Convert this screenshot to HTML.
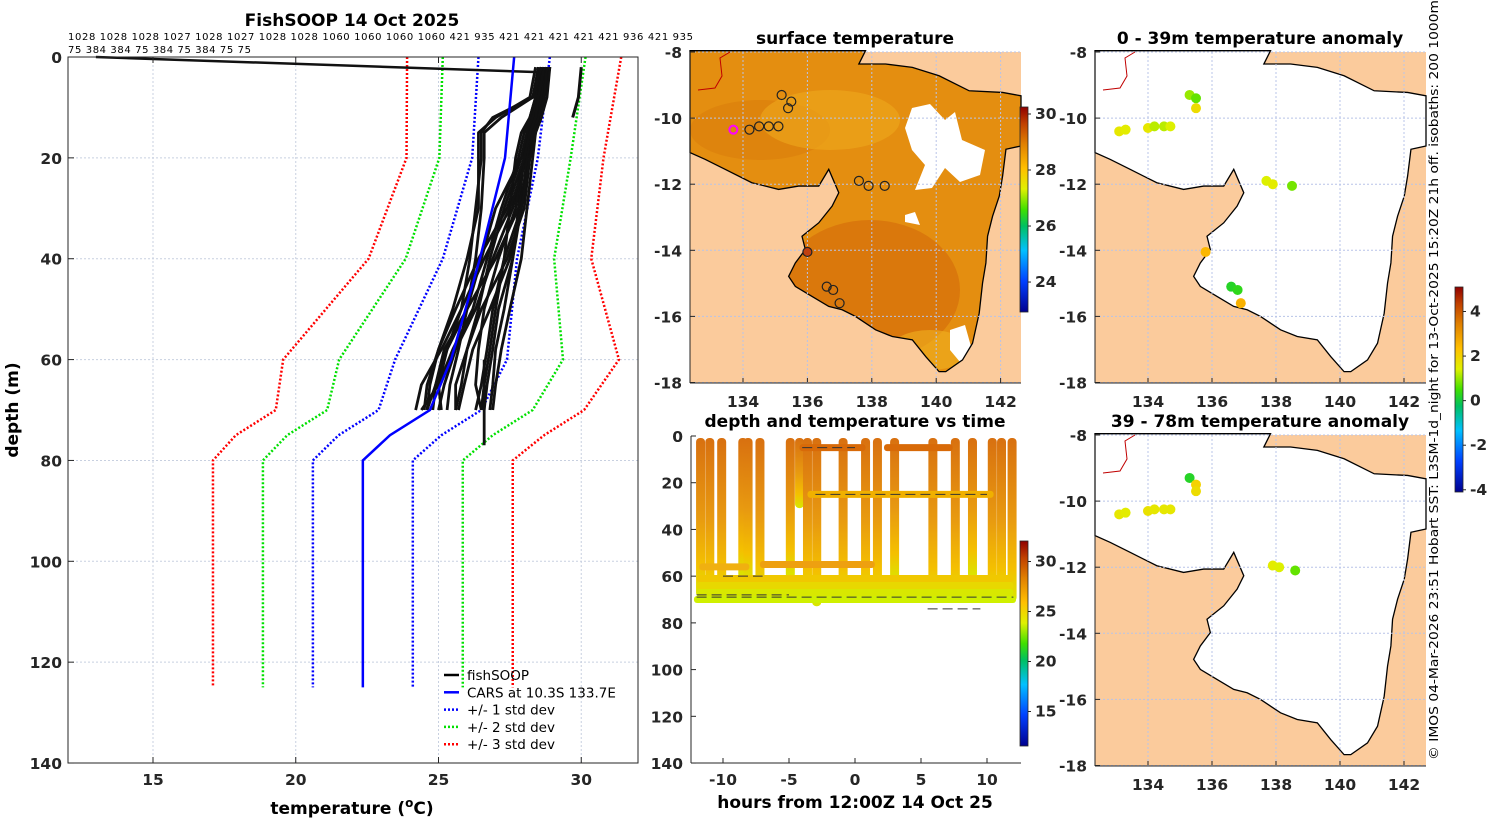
<!DOCTYPE html>
<html><head><meta charset="utf-8">
<style>
html,body{margin:0;padding:0;background:#fff;}
svg{display:block;font-family:"DejaVu Sans","Liberation Sans",sans-serif;}
.tk{font-size:15.5px;font-weight:bold;fill:#262626;}
.tt{font-size:17px;font-weight:bold;fill:#000;}
.nt{font-weight:normal;fill:#000;}
</style></head>
<body>
<svg id="s" width="1500" height="820" viewBox="0 0 1500 820" xmlns="http://www.w3.org/2000/svg">
<defs>
<linearGradient id="jet" x1="0" y1="1" x2="0" y2="0">
<stop offset="0" stop-color="#00008f"/><stop offset="0.15" stop-color="#0040ff"/><stop offset="0.3" stop-color="#00c0ff"/><stop offset="0.42" stop-color="#00c060"/><stop offset="0.5" stop-color="#40e000"/><stop offset="0.6" stop-color="#e0f000"/><stop offset="0.7" stop-color="#ffc000"/><stop offset="0.82" stop-color="#e08000"/><stop offset="0.92" stop-color="#c04000"/><stop offset="1" stop-color="#900000"/>
</linearGradient>
<linearGradient id="dtg" x1="0" y1="0" x2="0" y2="1">
<stop offset="0" stop-color="#d87010"/><stop offset="0.5" stop-color="#e89a10"/><stop offset="0.8" stop-color="#f4c000"/><stop offset="1" stop-color="#d8e800"/>
</linearGradient>
</defs>
</svg>
<script>
// ---- data ----
const profDepths=[2,8,12,15,20,30,40,50,58,65,70];
const profTemps=[
[28.6,28.4,28.2,27.9,27.7,27.5,27.3,27.0,26.8,26.6,26.5],
[28.8,28.6,28.4,28.2,28.0,27.6,26.9,26.3,25.6,25.2,25.0],
[28.5,28.3,27.2,26.6,26.6,26.5,26.3,26.0,25.7,25.4,25.3],
[28.7,28.5,28.3,28.1,27.9,27.0,26.5,26.0,25.3,24.9,24.8],
[28.9,28.7,28.5,28.3,28.1,27.9,27.5,26.8,26.2,25.9,25.7],
[28.4,28.2,27.0,26.4,26.4,26.4,26.0,25.5,25.0,24.7,24.6],
[28.8,28.6,28.4,28.3,28.2,28.0,27.4,26.5,26.0,25.8,25.6],
[28.6,28.4,28.2,28.0,27.8,27.2,26.7,26.2,25.5,25.0,24.4],
[28.7,28.5,28.3,28.1,28.0,27.7,27.1,26.6,26.4,26.3,26.5],
[28.5,28.4,28.3,28.2,28.0,27.8,27.6,27.3,27.0,26.9,26.8],
[28.9,28.7,28.5,28.4,28.2,27.8,27.0,26.0,25.2,24.9,24.6],
[28.6,28.5,28.3,28.1,27.9,27.3,26.8,26.4,26.0,25.6,25.6],
[28.8,28.6,28.5,28.3,28.1,27.5,26.6,25.8,25.1,24.4,24.2],
[28.7,28.6,28.4,28.2,28.1,27.9,27.6,27.1,26.9,26.7,26.6],
[28.6,28.3,26.9,26.5,26.5,26.3,26.1,25.8,25.3,25.0,25.1],
[28.8,28.7,28.6,28.4,28.3,28.1,27.9,27.5,27.2,27.0,26.9],
[28.7,28.5,28.4,28.2,28.0,27.4,26.4,25.6,25.0,24.6,24.5],
[28.9,28.8,28.6,28.4,28.2,27.9,27.3,26.9,26.7,26.5,26.3]
];
const carsDepths=[0,20,40,60,70,75,80,125];
const carsMean=[27.65,27.33,26.45,25.44,24.7,23.3,22.35,22.35];
const carsStd=[1.25,1.15,1.3,1.96,1.8,1.8,1.75,1.75];
const tempTicks=[15,20,25,30];
const depthTicks=[0,20,40,60,80,100,120,140];
const headerLine1="1028 1028 1028 1027 1028 1027 1028 1028 1060 1060 1060 1060 421 935 421 421 421 421 421 936 421 935";
const headerLine2="75 384 384 75 384 75 384 75 75";
const dropHours=[-11.7,-11.0,-10.1,-8.5,-8.1,-7.2,-4.9,-4.2,-3.6,-2.9,-0.9,0.8,1.7,3.0,5.9,7.6,8.9,10.4,11.1,11.9];
const dropBottoms=[68,70,70,60,62,68,60,30,70,72,70,70,70,62,70,70,60,70,70,70];
const hourTicks=[-10,-5,0,5,10];
const lonTicks=[134,136,138,140,142];
const latTicks=[-8,-10,-12,-14,-16,-18];
const sstLon=[135.2,135.5,135.4,134.2,134.5,134.8,135.1,137.6,137.9,138.4,136.0,136.6,136.8,137.0];
const sstLat=[-9.3,-9.5,-9.7,-10.35,-10.25,-10.25,-10.25,-11.9,-12.05,-12.05,-14.05,-15.1,-15.2,-15.6];
const anomLon1=[135.3,135.5,135.5,133.1,133.3,134.0,134.2,134.5,134.7,137.7,137.9,138.5,135.8,136.6,136.8,136.9];
const anomLat1=[-9.3,-9.4,-9.7,-10.4,-10.35,-10.3,-10.25,-10.25,-10.25,-11.9,-12.0,-12.05,-14.05,-15.1,-15.2,-15.6];
const anomVal1=[1.0,0.7,1.8,1.6,1.5,1.6,1.2,1.2,1.4,1.4,1.5,0.8,2.5,0.2,0.3,2.6];
const anomLon2=[135.3,135.5,135.5,133.1,133.3,134.0,134.2,134.5,134.7,137.9,138.1,138.6];
const anomLat2=[-9.3,-9.5,-9.7,-10.4,-10.35,-10.3,-10.25,-10.25,-10.25,-11.95,-12.0,-12.1];
const anomVal2=[0.2,2.0,1.8,1.6,1.5,1.7,1.6,1.6,1.6,1.5,1.4,0.7];
const sstTicks=[30,28,26,24];
const tvTicks=[30,25,20,15];
const anomTicks=[4,2,0,-2,-4];

// ---- helpers ----
const NS="http://www.w3.org/2000/svg";
const svg=document.getElementById('s');
function el(tag,attrs,parent){const e=document.createElementNS(NS,tag);for(const k in attrs)e.setAttribute(k,attrs[k]);(parent||svg).appendChild(e);return e;}
function txt(x,y,s,cls,anchor,extra,parent){const e=el('text',Object.assign({x:x,y:y,'class':(cls==null?'tk':cls),'text-anchor':anchor||'middle'},extra||{}),parent);e.textContent=s;return e;}
function jet(f){f=Math.max(0,Math.min(1,f));const st=[[0,[0,0,143]],[0.15,[0,64,255]],[0.3,[0,192,255]],[0.42,[0,192,96]],[0.5,[64,224,0]],[0.6,[224,240,0]],[0.7,[255,192,0]],[0.82,[224,128,0]],[0.92,[192,64,0]],[1,[144,0,0]]];for(let i=1;i<st.length;i++){if(f<=st[i][0]){const a=st[i-1],b=st[i];const t=(f-a[0])/(b[0]-a[0]);return 'rgb('+a[1].map((v,j)=>Math.round(v+(b[1][j]-v)*t)).join(',')+')';}}return 'rgb(144,0,0)';}

// ---- left panel ----
const LX0=68,LX1=638,LY0=57,LY1=763;
const xT=t=>153+(t-15)*28.55, yD=d=>LY0+(d)*5.043;
let g=el('g',{});


tempTicks.forEach(t=>{el('line',{x1:xT(t),x2:xT(t),y1:LY0,y2:LY1,stroke:'#c8d0e0','stroke-dasharray':'2,2','stroke-width':1},g);});
depthTicks.forEach(d=>{el('line',{x1:LX0,x2:LX1,y1:yD(d),y2:yD(d),stroke:'#c8d0e0','stroke-dasharray':'2,2','stroke-width':1},g);});
[[3,'#ff0000'],[2,'#00e000'],[1,'#0000ff']].forEach(([k,c])=>{
 [-1,1].forEach(sgn=>{
  const pts=carsDepths.map((d,i)=>xT(carsMean[i]+sgn*k*carsStd[i])+','+yD(d)).join(' ');
  const l=el('polyline',{points:pts,fill:'none',stroke:c,'stroke-width':2.5,'stroke-dasharray':'2,2'},g);
  
  
 });
});
profTemps.forEach((arr,i)=>{
 const pts=profDepths.map((d,j)=>xT(arr[j])+','+yD(d)).join(' ');
 const l=el('polyline',{points:pts,fill:'none',stroke:'#111','stroke-width':2.8,'stroke-linejoin':'round'},g);
 
 
});
{const l=el('polyline',{points:xT(13)+','+yD(0)+' '+xT(28.5)+','+yD(3),fill:'none',stroke:'#111','stroke-width':2.5},g);

}
{const l=el('polyline',{points:xT(26.6)+','+yD(60)+' '+xT(26.6)+','+yD(77),fill:'none',stroke:'#111','stroke-width':2.8},g);

}
{const l=el('polyline',{points:xT(30.0)+','+yD(2)+' '+xT(29.9)+','+yD(8)+' '+xT(29.7)+','+yD(12),fill:'none',stroke:'#111','stroke-width':3},g);

}
{const l=el('polyline',{points:carsDepths.map((d,i)=>xT(carsMean[i])+','+yD(d)).join(' '),fill:'none',stroke:'#0000ff','stroke-width':2.5},g);

}
el('rect',{x:LX0,y:LY0,width:LX1-LX0,height:LY1-LY0,fill:'none',stroke:'#262626','stroke-width':1},g);
tempTicks.forEach(t=>{el('line',{x1:xT(t),x2:xT(t),y1:LY1,y2:LY1-6,stroke:'#262626'},g);el('line',{x1:xT(t),x2:xT(t),y1:LY0,y2:LY0+6,stroke:'#262626'},g);const e=txt(xT(t),785,String(t),null,null,null,g);});
depthTicks.forEach(d=>{el('line',{x1:LX0,x2:LX0+6,y1:yD(d),y2:yD(d),stroke:'#262626'},g);const e=txt(62,yD(d)+6,String(d),'tk','end',null,g);});
{const e=el('text',{x:352,y:814,'class':'tt','text-anchor':'middle'});e.innerHTML='temperature (<tspan dy="-7" font-size="12">o</tspan><tspan dy="7">C)</tspan>';}
{const e=txt(18,410,'depth (m)','tt','middle',{transform:'rotate(-90 18 410)'});}
{const e=txt(352,26,'FishSOOP 14 Oct 2025','tt','middle',{'font-size':'18.5'});}
{const e=txt(68,40,headerLine1,'nt','start',{'font-size':'10','textLength':'625','lengthAdjust':'spacing'});}
{const e=txt(68,53,headerLine2,'nt','start',{'font-size':'10','textLength':'183','lengthAdjust':'spacing'});}
const legItems=[['fishSOOP','#000',''],['CARS at 10.3S 133.7E','#0000ff',''],['+/- 1 std dev','#0000ff','2,2'],['+/- 2 std dev','#00e000','2,2'],['+/- 3 std dev','#ff0000','2,2']];
legItems.forEach((it,i)=>{const y=675+i*17.3;const lg=el('g',{},g);
 el('line',{x1:444,x2:459,y1:y,y2:y,stroke:it[1],'stroke-width':2.5,'stroke-dasharray':it[2]||'none'},lg);
 txt(467,y+5,it[0],'nt','start',{'font-size':'13.5'},lg);});

// ---- coast polygon (fractions of map box) ----
const waterZ=[[15,5],[540,5],[520,45],[600,45],[680,55],[760,80],[850,125],[950,130],[1005,140],[1005,290],[960,300],[950,380],[940,440],[920,500],[905,560],[900,640],[890,700],[880,790],[860,880],[830,930],[780,965],[760,965],[720,920],[680,870],[620,860],[570,840],[510,800],[470,780],[430,770],[380,740],[330,710],[310,680],[330,640],[360,600],[350,560],[400,520],[440,470],[460,430],[430,360],[400,410],[340,410],[280,420],[200,400],[120,360],[60,330],[15,310]];
let clipN=0;
function drawMap(x0,y0,h,water,name){
 const mg=el('g',{});
 const w=331;
 el('rect',{x:x0,y:y0,width:w,height:h,fill:'#fbcb9c'},mg);
 const pts=waterZ.map(p=>(x0+(p[0]-15)/990*w)+','+(y0+(p[1]-9)/990*h)).join(' ');
 const cid='clip'+(clipN++);
 const cp=el('clipPath',{id:cid},svg.querySelector('defs'));el('polygon',{points:pts},cp);
 el('polygon',{points:pts,fill:water},mg);
 const inner=el('g',{'clip-path':'url(#'+cid+')'},mg);
 el('polyline',{points:`${x0+8},${y0+38} ${x0+25},${y0+36} ${x0+32},${y0+24} ${x0+30},${y0+6} ${x0+40},${y0}`,fill:'none',stroke:'#c00000','stroke-width':1},mg);
 return [mg,inner,pts];
}
function mapAxes(mg,x0,y0,h,lonF,latF,showLon){
 lonTicks.forEach(l=>{el('line',{x1:lonF(l),x2:lonF(l),y1:y0,y2:y0+h,stroke:'#b8c4e8','stroke-dasharray':'2,2'},mg);el('line',{x1:lonF(l),x2:lonF(l),y1:y0+h,y2:y0+h-5,stroke:'#262626'},mg);
  if(showLon){const e=txt(lonF(l),y0+h+24,String(l),null,null,null,mg);}});
 latTicks.forEach(l=>{el('line',{x1:x0,x2:x0+331,y1:latF(l),y2:latF(l),stroke:'#b8c4e8','stroke-dasharray':'2,2'},mg);el('line',{x1:x0,x2:x0+5,y1:latF(l),y2:latF(l),stroke:'#262626'},mg);
  const e=txt(x0-8,latF(l)+6,String(l),'tk','end',null,mg);});
 el('line',{x1:x0,x2:x0,y1:y0,y2:y0+h,stroke:'#262626'},mg);
 el('line',{x1:x0,x2:x0+331,y1:y0+h,y2:y0+h,stroke:'#262626'},mg);
}
function colorbar(x,y0,y1,vmin,vmax,ticks,name){
 const r=el('rect',{x:x,y:y0,width:8,height:y1-y0,fill:'url(#jet)',stroke:'#262626','stroke-width':0.8});
 
 ticks.forEach(t=>{const y=y1-(t-vmin)/(vmax-vmin)*(y1-y0);el('line',{x1:x+8,x2:x+11,y1:y,y2:y,stroke:'#262626'});const e=txt(x+15,y+5,String(t),'tk','start',{'font-size':'13'});});
}

// ---- SST map ----
{const x0=690,y0=52,h=331;
 const lonF=l=>743+(l-134)*32.2, latF=l=>y0+(-8-l)*33.05;
 const [mg,inner,pts]=drawMap(x0,y0,h,'#e48e10','sst-map');
 el('ellipse',{cx:870,cy:290,rx:90,ry:70,fill:'#d2660a',opacity:0.55},inner);
 el('ellipse',{cx:760,cy:130,rx:70,ry:30,fill:'#d8780c',opacity:0.45},inner);
 el('ellipse',{cx:830,cy:120,rx:70,ry:30,fill:'#eea81c',opacity:0.6},inner);
 el('ellipse',{cx:700,cy:180,rx:14,ry:14,fill:'#b02808',opacity:0.8},inner);
 el('ellipse',{cx:930,cy:350,rx:40,ry:20,fill:'#f0b020',opacity:0.6},inner);
 el('polygon',{points:'912,108 930,104 945,120 955,112 962,140 985,150 980,175 960,182 945,168 932,188 915,190 925,165 912,150 905,128',fill:'#fff'},inner);
 el('polygon',{points:'905,215 915,212 920,225 905,222',fill:'#fff'},inner);
 el('polygon',{points:'950,330 965,325 972,350 960,362 950,350',fill:'#fff'},inner);
 el('polygon',{points:pts,fill:'none',stroke:'#000','stroke-width':1.3},mg);
 mapAxes(mg,x0,y0,h,lonF,latF,true);
 sstLon.forEach((lo,i)=>{const c=el('circle',{cx:lonF(lo),cy:latF(sstLat[i]),r:4.5,fill:i==10?'#c04010':'none',stroke:'#222','stroke-width':1.2},mg);});
 const m=el('circle',{cx:lonF(133.7),cy:latF(-10.35),r:4,fill:'none',stroke:'#ff00ff','stroke-width':2},mg);
 const e=txt(855,44,'surface temperature','tt');
 colorbar(1020,107,312,22.93,30.25,sstTicks,'sst-colorbar');
}

// ---- depth vs time ----
{const X0=691,X1=1021,Y0=436,Y1=763;
 const xH=h=>855+h*13.2, yD2=d=>Y0+d*2.336;
 const tg=el('g',{});
 const tows=[[5,-4.2,0.8,'#d86a08'],[5,2.2,7.4,'#d86a08'],[25,-3.6,10.5,'#f0b000'],[56,-11.8,-8.0,'#f0b010'],[55,-7.2,1.5,'#eea010'],[61,-12,12,'#f0c800'],[64,-12,12,'#e8d800'],[67,-12,12,'#d8e800'],[70,-12.2,12.2,'#d0f000']];
 dropHours.forEach((hh,i)=>{const b=el('rect',{x:xH(hh)-4.5,y:yD2(0)+2,width:9,height:yD2(dropBottoms[i])-yD2(0),rx:4,fill:'url(#dtg)'},tg);});
 tows.forEach(t=>{const b=el('rect',{x:xH(t[1]),y:yD2(t[0])-3.5,width:xH(t[2])-xH(t[1]),height:7,rx:3,fill:t[3]},tg);});
 [[69,-12,12],[68,-12,-5],[25,-3,10],[5,-4,0],[60,-10,-7],[74,5.5,9.5]].forEach(t=>{el('line',{x1:xH(t[1]),x2:xH(t[2]),y1:yD2(t[0]),y2:yD2(t[0]),stroke:'#333','stroke-width':1,'stroke-dasharray':'10,5'},tg);});
 el('line',{x1:X0,x2:X0,y1:Y0,y2:Y1,stroke:'#262626'},tg);el('line',{x1:X0,x2:X1,y1:Y1,y2:Y1,stroke:'#262626'},tg);
 hourTicks.forEach(h=>{el('line',{x1:xH(h),x2:xH(h),y1:Y1,y2:Y1-5,stroke:'#262626'},tg);const e=txt(xH(h),785,String(h),null,null,null,tg);});
 depthTicks.forEach(d=>{el('line',{x1:X0,x2:X0+5,y1:yD2(d),y2:yD2(d),stroke:'#262626'},tg);const e=txt(X0-8,yD2(d)+6,String(d),'tk','end',null,tg);});
 const t1=txt(855,427,'depth and temperature vs time','tt');
 const t2=txt(855,808,'hours from 12:00Z 14 Oct 25','tt');
 colorbar(1020,541,746,11.55,32.05,tvTicks,'time-colorbar');
}

// ---- anomaly maps ----
[[52,'0 - 39m temperature anomaly',anomLon1,anomLat1,anomVal1,true,'anomaly-map-0-39m'],[435,'39 - 78m temperature anomaly',anomLon2,anomLat2,anomVal2,false,'anomaly-map-39-78m']].forEach(cfg=>{
 const x0=1095,y0=cfg[0],h=331;
 const lonF=l=>1148+(l-134)*32, latF=l=>y0+(-8-l)*33.05;
 const [mg,inner,pts]=drawMap(x0,y0,h,'#ffffff',cfg[6]);
 el('polygon',{points:pts,fill:'none',stroke:'#000','stroke-width':1.3},mg);
 mapAxes(mg,x0,y0,h,lonF,latF,true);
 cfg[2].forEach((lo,i)=>{const c=el('circle',{cx:lonF(lo),cy:latF(cfg[3][i]),r:5,fill:jet((cfg[4][i]+4.1)/9.2)},mg);});
 const e=txt(1260,y0-8,cfg[1],'tt');
});
colorbar(1455,287,492,-4.1,5.1,anomTicks,'anomaly-colorbar');
{const e=txt(1438,760,'© IMOS 04-Mar-2026 23:51 Hobart SST: L3SM-1d_night for 13-Oct-2025 15:20Z 21h off. isobaths: 200  1000m','nt','start',{'font-size':'12.5','textLength':'760','lengthAdjust':'spacingAndGlyphs',transform:'rotate(-90 1438 760)'});
}
</script>
</body></html>
